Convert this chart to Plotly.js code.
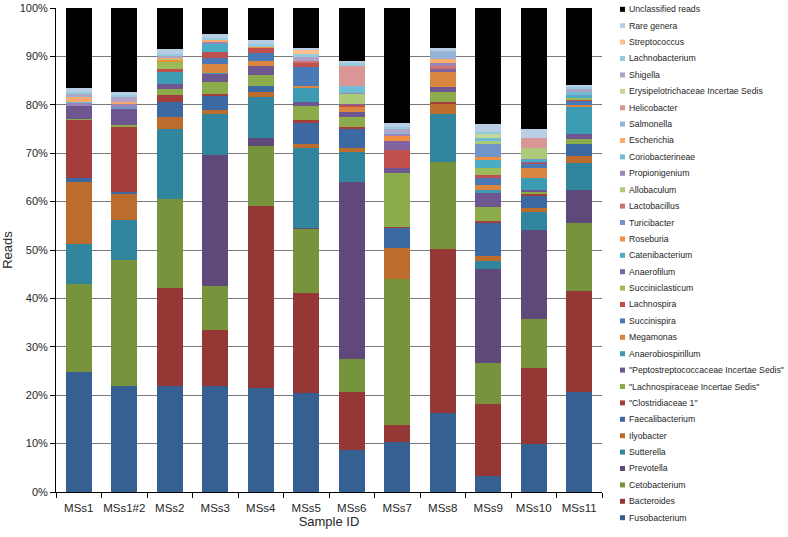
<!DOCTYPE html>
<html>
<head>
<meta charset="utf-8">
<script src="https://cdn.plot.ly/plotly-3.0.1.min.js"></script>
<style>html,body{margin:0;padding:0;background:#fff;}#chart{width:788px;height:537px;}</style>
</head>
<body>
<div id="chart"></div>
<script>
// Sample IDs (x categories)
const samples = ["MSs1","MSs1#2","MSs2","MSs3","MSs4","MSs5","MSs6","MSs7","MSs8","MSs9","MSs10","MSs11"];

// Percent of reads per genus, one value per sample (stack order: bottom to top)
const fusobacterium        = [24.8, 22.0, 22.0, 21.8, 21.4, 20.4,  8.7, 10.4, 16.3,  3.3,  9.9, 20.7];
const bacteroides          = [ 0.0,  0.0, 20.1, 11.7, 37.7, 20.8, 12.0,  3.4, 34.0, 14.9, 15.7, 20.9];
const cetobacterium        = [18.2, 25.9, 18.5,  9.1, 12.4, 13.1,  6.7, 30.3, 17.9,  8.4, 10.1, 13.9];
const prevotella           = [ 0.0,  0.0,  0.0, 27.0,  1.6,  0.3, 36.6,  0.0,  0.0, 19.4, 18.4,  7.0];
const sutterella           = [ 8.2,  8.4, 14.4,  8.4,  8.6, 16.4,  6.2,  0.0,  9.8,  1.8,  3.8,  5.4];
const ilyobacter           = [12.9,  5.3,  2.5,  0.9,  1.0,  1.0,  0.8,  6.4,  2.2,  1.0,  0.7,  1.5];
const faecalibacterium     = [ 0.8,  0.3,  3.1,  3.0,  1.2,  4.2,  3.9,  4.0,  0.0,  6.7,  2.6,  2.5];
const clostridiaceae1      = [11.9, 13.6,  1.4,  0.4,  0.0,  0.7,  0.6,  0.3,  0.4,  0.5,  0.3,  0.0];
const lachnospiraceaeIS    = [ 0.3,  0.3,  1.3,  2.5,  2.3,  2.9,  1.9, 11.2,  2.1,  2.8,  0.4,  1.0];
const peptostreptococcIS   = [ 2.7,  3.3,  1.1,  1.5,  1.8,  0.8,  1.2,  1.0,  1.0,  3.0,  0.4,  1.1];
const anaerobiospirillum   = [ 0.0,  0.0,  2.4,  0.3,  0.0,  2.8,  0.0,  0.0,  0.0,  0.7,  2.5,  5.6];
const megamonas            = [ 0.0,  0.0,  0.0,  1.9,  1.1,  0.5,  0.9,  0.0,  3.0,  1.0,  2.2,  0.4];
const succinispira         = [ 0.0,  0.0,  0.0,  1.2,  1.7,  4.0,  0.0,  0.0,  0.0,  1.3,  0.7,  0.8];
const lachnospira          = [ 0.0,  0.0,  0.7,  1.2,  0.9,  0.8,  0.4,  3.7,  0.0,  0.8,  0.2,  0.2];
const succiniclasticum     = [ 0.0,  0.0,  1.3,  0.0,  0.0,  0.0,  0.0,  0.0,  0.0,  1.4,  0.0,  0.4];
const anaerofilum          = [ 0.0,  0.0,  0.0,  0.0,  0.0,  0.0,  0.3,  1.8,  0.8,  0.0,  0.3,  0.0];
const catenibacterium      = [ 0.0,  0.0,  0.0,  1.6,  0.0,  0.0,  0.0,  0.0,  0.0,  1.6,  0.4,  0.5];
const roseburia            = [ 0.0,  0.0,  0.4,  0.0,  0.3,  0.0,  0.0,  1.1,  0.0,  0.7,  0.0,  0.0];
const turicibacter         = [ 0.0,  0.4,  0.0,  0.0,  0.0,  0.0,  0.0,  0.0,  0.0,  2.7,  0.3,  0.2];
const lactobacillus        = [ 0.0,  0.0,  0.0,  0.0,  0.0,  0.4,  0.0,  0.0,  0.5,  0.0,  0.0,  0.0];
const allobaculum          = [ 0.0,  0.0,  0.3,  0.0,  0.0,  0.0,  2.0,  0.0,  0.0,  0.5,  2.1,  0.0];
const propionigenium       = [ 0.6,  0.6,  0.0,  0.4,  0.0,  0.0,  0.2,  0.3,  0.6,  0.0,  0.0,  0.0];
const coriobacterineae     = [ 0.2,  0.0,  0.0,  0.0,  0.0,  0.0,  1.5,  0.0,  0.0,  0.7,  0.0,  0.5];
const escherichia          = [ 1.0,  0.5,  0.2,  0.5,  0.0,  0.0,  0.0,  0.0,  0.9,  0.0,  0.0,  0.0];
const salmonella           = [ 0.2,  0.0,  0.0,  0.0,  0.0,  0.0,  0.0,  0.5,  1.6,  0.0,  0.0,  0.0];
const helicobacter         = [ 0.0,  0.0,  0.0,  0.0,  0.0,  0.0,  4.1,  0.0,  0.0,  0.0,  2.2,  0.0];
const erysipelotrichaceaeIS= [ 0.0,  0.0,  0.0,  0.0,  0.0,  0.0,  0.0,  0.0,  0.0,  0.8,  0.0,  0.0];
const shigella             = [ 0.5,  1.0,  0.3,  0.0,  0.0,  0.8,  0.0,  0.5,  0.0,  0.0,  0.0,  0.7];
const lachnobacterium      = [ 0.3,  0.4,  0.5,  0.5,  0.6,  0.6,  0.6,  0.6,  0.0,  0.4,  0.0,  0.3];
const streptococcus        = [ 0.0,  0.0,  0.0,  0.0,  0.0,  0.9,  0.0,  0.0,  0.0,  0.0,  0.0,  0.0];
const rareGenera           = [ 0.9,  0.6,  1.0,  0.7,  0.8,  0.3,  0.5,  0.7,  0.7,  1.6,  1.7,  0.5];
const unclassifiedReads    = [16.5, 17.4,  8.5,  5.4,  6.6,  8.3, 10.9, 23.8,  8.2, 24.0, 25.1, 15.9];

// Series names (bottom to top), paired with their arrays and colours
const seriesNames = ["Fusobacterium","Bacteroides","Cetobacterium","Prevotella","Sutterella","Ilyobacter",
  "Faecalibacterium","\"Clostridiaceae 1\"","\"Lachnospiraceae Incertae Sedis\"","\"Peptostreptococcaceae Incertae Sedis\"",
  "Anaerobiospirillum","Megamonas","Succinispira","Lachnospira","Succiniclasticum","Anaerofilum","Catenibacterium",
  "Roseburia","Turicibacter","Lactobacillus","Allobaculum","Propionigenium","Coriobacterineae","Escherichia",
  "Salmonella","Helicobacter","Erysipelotrichaceae Incertae Sedis","Shigella","Lachnobacterium","Streptococcus",
  "Rare genera","Unclassified reads"];
const seriesValues = [fusobacterium,bacteroides,cetobacterium,prevotella,sutterella,ilyobacter,faecalibacterium,
  clostridiaceae1,lachnospiraceaeIS,peptostreptococcIS,anaerobiospirillum,megamonas,succinispira,lachnospira,
  succiniclasticum,anaerofilum,catenibacterium,roseburia,turicibacter,lactobacillus,allobaculum,propionigenium,
  coriobacterineae,escherichia,salmonella,helicobacter,erysipelotrichaceaeIS,shigella,lachnobacterium,streptococcus,
  rareGenera,unclassifiedReads];
const seriesColors = ["#376092","#953735","#77933C","#5F497A","#31859C","#BC6C2D",
  "#3D69A3","#A43E3B","#8CAC4C","#6E5690","#3D9BB3","#DA8640",
  "#4A79B8","#C0504D","#9BBB59","#8064A2","#4BACC6","#F08E43",
  "#7396CA","#CD7371","#AFC97A","#9A85B6","#6FBDD2","#F8AA6C",
  "#95B3D7","#D99694","#C3D69B","#B3A2C7","#93CDDD","#FAC090",
  "#B9CDE5","#000000"];

const traces = seriesNames.map((n, i) => ({
  type: "bar", name: n, x: samples, y: seriesValues[i],
  marker: {color: seriesColors[i], line: {width: 0}},
  showlegend: false, hoverinfo: "name+y"
}));

// Manual legend (top to bottom = reversed stack order)
const W = 788, H = 537, L = 56, R = 186, T = 8, B = 45;
const pw = W - L - R, ph = H - T - B;
const px2x = p => (p - L) / pw;
const py2y = p => (H - B - p) / ph;
const annotations = [], shapes = [];
for (let k = 0; k < seriesNames.length; k++) {
  const i = seriesNames.length - 1 - k;
  const cy = 9.3 + 16.4 * k;
  shapes.push({type: "rect", xref: "paper", yref: "paper",
    x0: px2x(620), x1: px2x(625), y0: py2y(cy + 2.5), y1: py2y(cy - 2.5),
    fillcolor: seriesColors[i], line: {width: 0}});
  annotations.push({xref: "paper", yref: "paper", x: px2x(626.5), y: py2y(cy),
    xanchor: "left", yanchor: "middle", showarrow: false, text: seriesNames[i],
    font: {family: "Liberation Sans, Arial, sans-serif", size: 8.7, color: "#262626"}});
}

const layout = {
  width: W, height: H,
  margin: {l: L, r: R, t: T, b: B, pad: 0},
  paper_bgcolor: "#ffffff", plot_bgcolor: "#ffffff",
  barmode: "stack", bargap: 0.42,
  font: {family: "Liberation Sans, Arial, sans-serif", size: 11, color: "#262626"},
  showlegend: false,
  xaxis: {
    type: "category", showline: true, linecolor: "#000", linewidth: 1,
    ticks: "outside", tickson: "boundaries", ticklen: 5, tickcolor: "#000",
    tickangle: 0, automargin: false, ticklabelstandoff: 5,
    showgrid: false, tickfont: {size: 11.5},
    title: {text: "Sample ID", font: {size: 13}, standoff: 4}
  },
  yaxis: {
    range: [0, 100], dtick: 10, ticksuffix: "%", showline: true, linecolor: "#000", linewidth: 1,
    ticks: "outside", ticklen: 5, tickcolor: "#000", automargin: false,
    showgrid: true, gridcolor: "#7a7a7a", gridwidth: 1, zeroline: false,
    tickfont: {size: 11},
    title: {text: "Reads", font: {size: 13}, standoff: 7}
  },
  annotations: annotations,
  shapes: shapes
};

Plotly.newPlot("chart", traces, layout, {displayModeBar: false, staticPlot: true});
</script>
</body>
</html>
